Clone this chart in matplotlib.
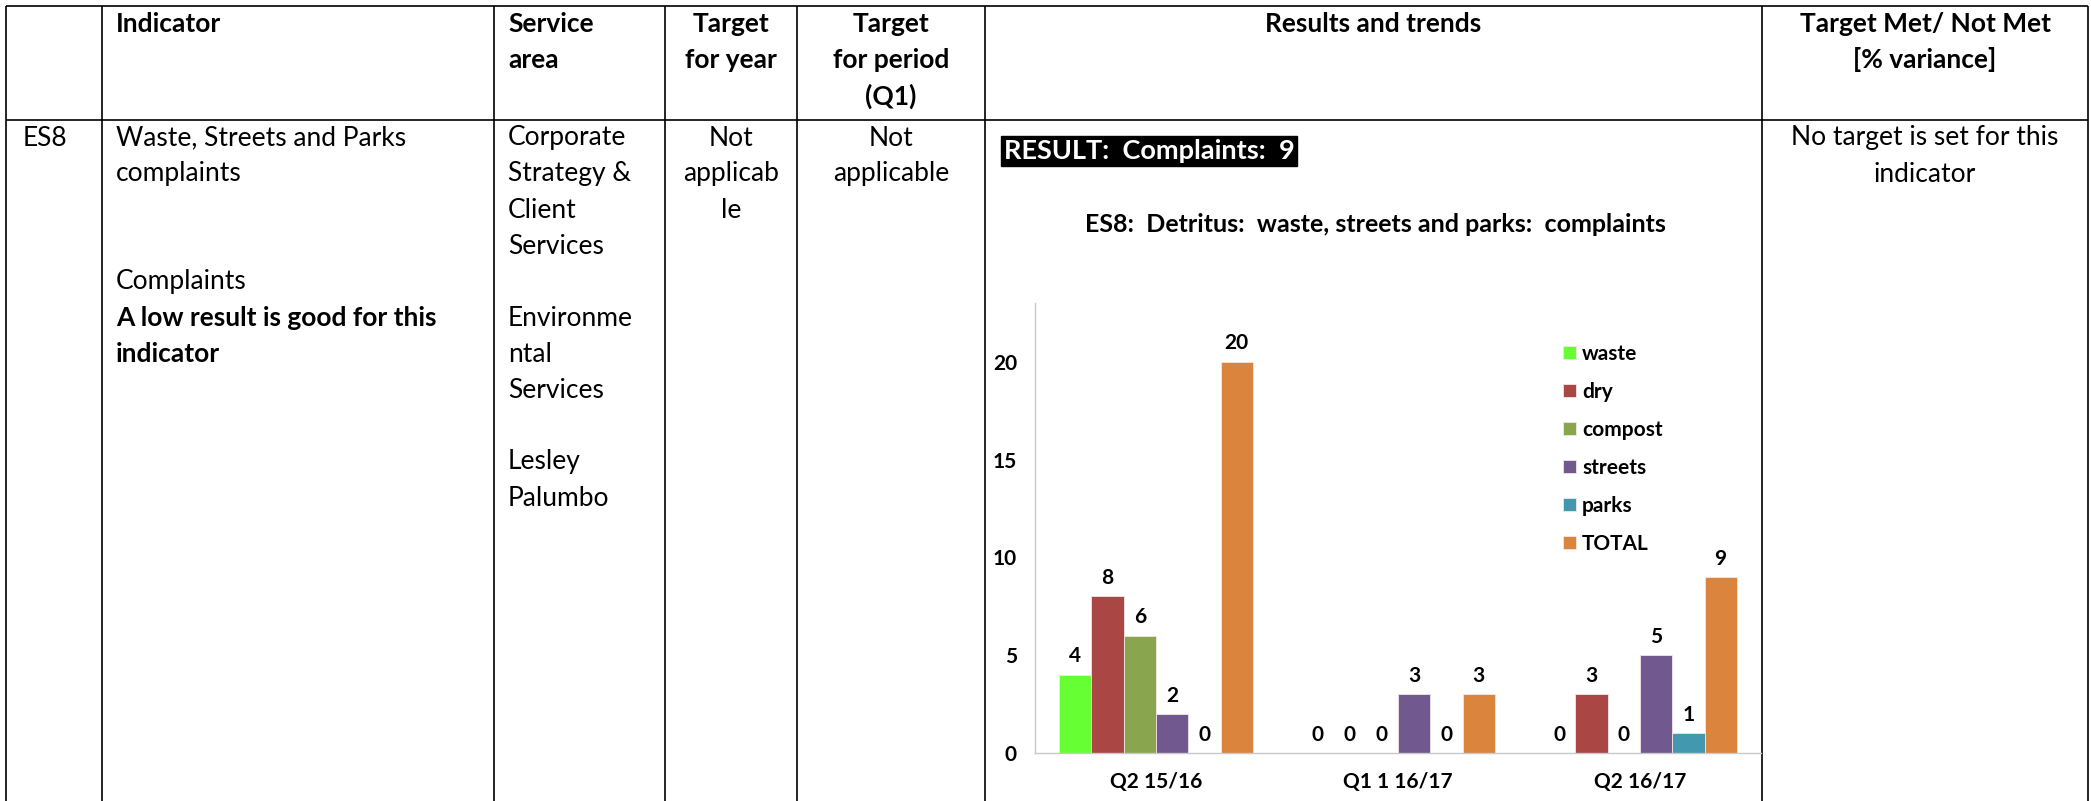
import matplotlib
matplotlib.use('Agg')
import matplotlib.pyplot as plt
import numpy as np

plt.rcParams['font.family'] = ['Lato', 'DejaVu Sans']

# ---------------- data ----------------
categories = ['Q2 15/16', 'Q1 1 16/17', 'Q2 16/17']
series_names = ['waste', 'dry', 'compost', 'streets', 'parks', 'TOTAL']
waste = [4, 0, 0]
dry = [8, 0, 3]
compost = [6, 0, 0]
streets = [2, 3, 5]
parks = [0, 0, 1]
total = [20, 3, 9]
series_values = [waste, dry, compost, streets, parks, total]
series_colors = ['#66FF33', '#AA4643', '#89A54E', '#71588F', '#4198AF', '#DB843D']
yticks = [0, 5, 10, 15, 20]

chart_title = 'ES8:  Detritus:  waste, streets and parks:  complaints'
result_text = 'RESULT:  Complaints:  9'

# table content
header_cells = [
    (['Indicator'], 'left'),
    (['Service', 'area'], 'left'),
    (['Target', 'for year'], 'center'),
    (['Target', 'for period', '(Q1)'], 'center'),
    (['Results and trends'], 'center'),
    (['Target Met/ Not Met', '[% variance]'], 'center'),
]
row_id = 'ES8'
indicator_lines = [('Waste, Streets and Parks', 0, 'normal'),
                   ('complaints', 1, 'normal'),
                   ('Complaints', 4, 'normal'),
                   ('A low result is good for this', 5, 'bold'),
                   ('indicator', 6, 'bold')]
service_lines = ['Corporate', 'Strategy &', 'Client', 'Services', '',
                 'Environme', 'ntal', 'Services', '', 'Lesley', 'Palumbo']
target_year_lines = ['Not', 'applicab', 'le']
target_period_lines = ['Not', 'applicable']
met_lines = ['No target is set for this', 'indicator']

# ---------------- layout ----------------
W, H = 2091, 801
fig = plt.figure(figsize=(W / 100, H / 100), dpi=100)
fig.patch.set_facecolor('white')
bg = fig.add_axes([0, 0, 1, 1])
bg.set_xlim(0, W)
bg.set_ylim(H, 0)
bg.axis('off')

col_x = [6, 102, 494, 665, 797, 985, 1762, 2088]
top_y, head_y = 6, 120
lw = 1.2
for x in col_x:
    bg.plot([x, x], [top_y, H], color='black', lw=lw, solid_capstyle='butt')
for y in [top_y, head_y]:
    bg.plot([col_x[0], col_x[-1]], [y, y], color='black', lw=lw, solid_capstyle='butt')

FS = 19
LS = 36
hy0 = 24
ry0 = 138
pad_left = 14

for ci, (lines, align) in enumerate(header_cells):
    x0, x1 = col_x[ci + 1], col_x[ci + 2]
    for li, t in enumerate(lines):
        if align == 'left':
            bg.text(x0 + pad_left, hy0 + li * LS, t, fontsize=FS, fontweight='bold',
                    ha='left', va='center')
        else:
            bg.text((x0 + x1) / 2, hy0 + li * LS, t, fontsize=FS, fontweight='bold',
                    ha='center', va='center')

bg.text(col_x[0] + 17, ry0, row_id, fontsize=FS, ha='left', va='center')
for t, li, wgt in indicator_lines:
    bg.text(col_x[1] + pad_left, ry0 + li * LS, t, fontsize=FS, fontweight=wgt,
            ha='left', va='center')
for li, t in enumerate(service_lines):
    if t:
        bg.text(col_x[2] + pad_left, ry0 + li * LS, t, fontsize=FS, ha='left', va='center')
for li, t in enumerate(target_year_lines):
    bg.text((col_x[3] + col_x[4]) / 2, ry0 + li * LS, t, fontsize=FS, ha='center', va='center')
for li, t in enumerate(target_period_lines):
    bg.text((col_x[4] + col_x[5]) / 2, ry0 + li * LS, t, fontsize=FS, ha='center', va='center')
for li, t in enumerate(met_lines):
    bg.text((col_x[6] + col_x[7]) / 2, ry0 + li * LS, t, fontsize=FS, ha='center', va='center')

# result banner and chart title
bg.text(1004, 151, result_text, fontsize=19.5, fontweight='bold', color='white',
        ha='left', va='center',
        bbox=dict(facecolor='black', edgecolor='black', boxstyle='square,pad=0.1'))
bg.text(1375, 224, chart_title, fontsize=18, fontweight='bold', ha='center', va='center')

# ---------------- chart ----------------
ax_l, ax_r, ax_b, ax_t = 1035, 1761, 753, 303
ax = fig.add_axes([ax_l / W, (H - ax_b) / H, (ax_r - ax_l) / W, (ax_b - ax_t) / H])
ax.set_facecolor('none')
x = np.arange(len(categories))
n = len(series_names)
bw = 0.8 / n
CFS = 15
for i, (name, vals, c) in enumerate(zip(series_names, series_values, series_colors)):
    bc = ax.bar(x + (i - (n - 1) / 2) * bw, vals, width=bw, color=c, label=name,
                edgecolor='#f2e6e6', linewidth=0.6)
    ax.bar_label(bc, padding=6, fontsize=CFS, fontweight='bold')

ax.set_xlim(-0.5, len(categories) - 0.5)
ax.set_ylim(0, 23)
ax.set_xticks(x)
ax.set_xticklabels(categories, fontsize=CFS, fontweight='bold')
ax.set_yticks(yticks)
ax.set_yticklabels([str(v) for v in yticks], fontsize=CFS, fontweight='bold')
ax.tick_params(axis='both', length=0)
ax.tick_params(axis='y', pad=13)
ax.tick_params(axis='x', pad=14)
for s in ['top', 'right']:
    ax.spines[s].set_visible(False)
for s in ['left', 'bottom']:
    ax.spines[s].set_color('#C8C8C8')
    ax.spines[s].set_linewidth(1.0)

leg = ax.legend(loc='upper left', bbox_to_anchor=(1563 / W, (H - 344) / H),
                bbox_transform=fig.transFigure, frameon=False,
                prop={'size': CFS, 'weight': 'bold'},
                handlelength=0.62, handleheight=0.62, handletextpad=0.3,
                labelspacing=0.86, borderpad=0, borderaxespad=0)

fig.savefig('out.png', dpi=100, facecolor='white')
